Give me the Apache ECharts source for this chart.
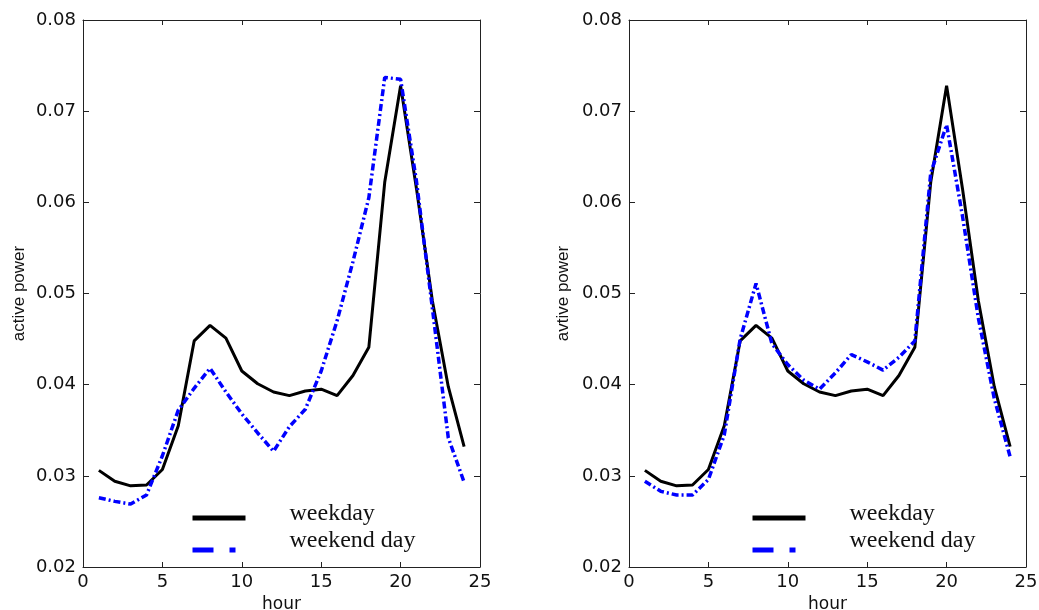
<!DOCTYPE html>
<html>
<head>
<meta charset="utf-8">
<script src="https://cdn.jsdelivr.net/npm/echarts@6/dist/echarts.min.js"></script>
<style>
  html, body { margin: 0; padding: 0; background: #fff; overflow: hidden; }
  #chart { width: 1039px; height: 610px; }
</style>
</head>
<body>
<div id="chart"></div>
<script>
// ---- data ----
const hours = [1, 2, 3, 4, 5, 6, 7, 8, 9, 10, 11, 12, 13, 14, 15, 16, 17, 18, 19, 20, 21, 22, 23, 24];
const weekday = [0.0306, 0.0294, 0.0289, 0.0290, 0.0307, 0.0355, 0.0448, 0.0465, 0.0451, 0.0415, 0.0401, 0.0392,
                 0.0388, 0.0393, 0.0395, 0.0388, 0.0410, 0.0441, 0.0622, 0.0728, 0.0615, 0.0492, 0.0398, 0.0332];
const weekendLeft = [0.0276, 0.0272, 0.0269, 0.0279, 0.0322, 0.0372, 0.0396, 0.0418, 0.0392, 0.0368, 0.0347, 0.0327,
                     0.0354, 0.0373, 0.0415, 0.0470, 0.0535, 0.0605, 0.0737, 0.0735, 0.0623, 0.0484, 0.0342, 0.0293];
const weekendRight = [0.0294, 0.0283, 0.0279, 0.0279, 0.0296, 0.0345, 0.0450, 0.0511, 0.0445, 0.0422, 0.0405, 0.0395,
                      0.0413, 0.0433, 0.0425, 0.0416, 0.0430, 0.0448, 0.0632, 0.0685, 0.0585, 0.0473, 0.0385, 0.0321];
const seriesNames = ['weekday', 'weekend day'];
const yAxisNames = ['active power', 'avtive power'];
const xRange = [0, 25, 5];
const yRange = [0.02, 0.08, 0.01];

// ---- styling ----
const tickFont = 'DejaVu Sans';
const BLUE = '#0000ff';
const DASHDOT = [7, 3, 2, 3];
const CLEAR = 'rgba(0,0,0,0)';

function pairs(ys) { return hours.map((h, i) => [h, ys[i]]); }

function mkX(grid, pos, labels, name) {
  return {
    type: 'value', gridIndex: grid, position: pos,
    min: xRange[0], max: xRange[1], interval: xRange[2],
    axisLine: { show: true, onZero: false, lineStyle: { color: '#222', width: 1 } },
    axisTick: { show: true, inside: true, length: 5, lineStyle: { color: '#222' } },
    axisLabel: { show: labels, margin: 6, fontFamily: tickFont, fontSize: 18, color: '#111' },
    splitLine: { show: false },
    name: name || '', nameLocation: 'middle', nameGap: 26,
    nameTextStyle: { fontFamily: tickFont, fontSize: 17, color: '#111' }
  };
}
function mkY(grid, pos, labels, name) {
  return {
    type: 'value', gridIndex: grid, position: pos,
    min: yRange[0], max: yRange[1], interval: yRange[2],
    axisLine: { show: true, onZero: false, lineStyle: { color: '#222', width: 1 } },
    axisTick: { show: true, inside: true, length: 6, lineStyle: { color: '#222' } },
    axisLabel: { show: labels, margin: 7, fontFamily: tickFont, fontSize: 18, color: '#111',
                 formatter: v => v.toFixed(2) },
    splitLine: { show: false },
    name: name || '', nameLocation: 'middle', nameGap: grid === 0 ? 55 : 57, nameRotate: 90,
    nameTextStyle: { fontFamily: 'Liberation Sans', fontSize: 17, color: '#111' }
  };
}
// lh: line height of a 2-line label (name + empty line) -> raises the text by lh/2 relative to the icon
function mkLegend(left, top, idx, lh) {
  const item = idx === 0
    ? { name: seriesNames[0], lineStyle: { color: '#000', width: 5, type: 'solid' } }
    : { name: seriesNames[1], lineStyle: { color: BLUE, width: 5, type: [21, 16, 6, 20] } };
  item.itemStyle = { color: CLEAR, borderColor: CLEAR, borderWidth: 0, opacity: 0 };
  return {
    left: left, top: top, padding: 0, orient: 'vertical', selectedMode: false,
    itemWidth: 53, itemHeight: 14, itemGap: 0,
    data: [item],
    formatter: n => n + '\n ',
    textStyle: { fontFamily: 'Liberation Serif', fontSize: 24, lineHeight: lh, color: '#111',
                 padding: [0, 0, 0, 39] }
  };
}

const chart = echarts.init(document.getElementById('chart'), null, { renderer: 'canvas' });
chart.setOption({
  animation: false,
  backgroundColor: '#fff',
  grid: [
    { left: 83, top: 20, width: 397, height: 547, outerBoundsMode: 'none', containLabel: false },
    { left: 629, top: 20, width: 397, height: 547, outerBoundsMode: 'none', containLabel: false }
  ],
  xAxis: [mkX(0, 'bottom', true, 'hour'), mkX(0, 'top', false), mkX(1, 'bottom', true, 'hour'), mkX(1, 'top', false)],
  yAxis: [mkY(0, 'left', true, yAxisNames[0]), mkY(0, 'right', false), mkY(1, 'left', true, yAxisNames[1]), mkY(1, 'right', false)],
  legend: [
    mkLegend(190, 502, 0, 8), mkLegend(190, 529, 1, 18),
    mkLegend(750, 502, 0, 8), mkLegend(750, 529, 1, 18)
  ],
  series: [
    { type: 'line', name: seriesNames[0], xAxisIndex: 0, yAxisIndex: 0, data: pairs(weekday), symbol: 'none',
      lineStyle: { color: '#000', width: 3 }, itemStyle: { color: '#000' }, z: 2 },
    { type: 'line', name: seriesNames[1], xAxisIndex: 0, yAxisIndex: 0, data: pairs(weekendLeft), symbol: 'none',
      lineStyle: { color: BLUE, width: 3.5, type: DASHDOT }, itemStyle: { color: BLUE }, z: 3 },
    { type: 'line', name: seriesNames[0], xAxisIndex: 2, yAxisIndex: 2, data: pairs(weekday), symbol: 'none',
      lineStyle: { color: '#000', width: 3 }, itemStyle: { color: '#000' }, z: 2 },
    { type: 'line', name: seriesNames[1], xAxisIndex: 2, yAxisIndex: 2, data: pairs(weekendRight), symbol: 'none',
      lineStyle: { color: BLUE, width: 3.5, type: DASHDOT }, itemStyle: { color: BLUE }, z: 3 }
  ]
});
</script>
</body>
</html>
